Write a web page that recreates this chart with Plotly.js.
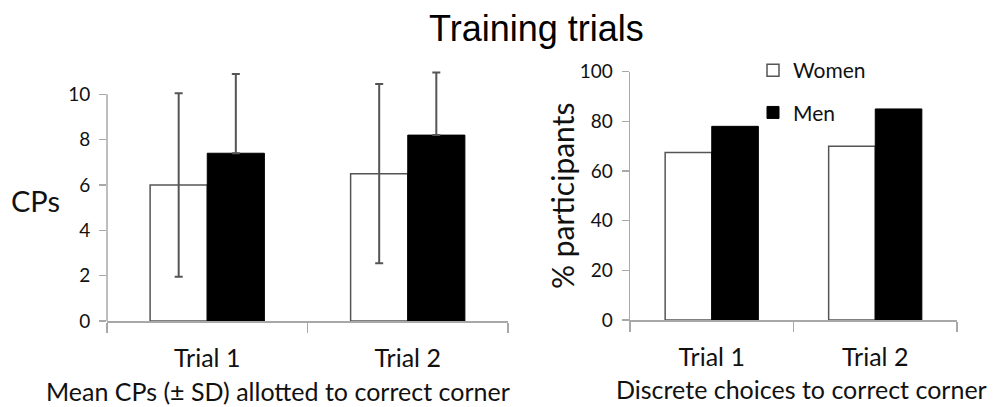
<!DOCTYPE html>
<html>
<head>
<meta charset="utf-8">
<script src="https://cdn.plot.ly/plotly-3.0.1.min.js"></script>
<style>
  html, body { margin: 0; padding: 0; background: #fff; }
  #chart { width: 1006px; height: 407px; }
</style>
</head>
<body>
<div id="chart"></div>
<script>
// ---- data ----
var categories = ["Trial 1", "Trial 2"];
// Left panel: mean CPs (± SD) allotted to correct corner
var cpsWomen = [6.0, 6.5];
var cpsWomenSD = [4.05, 3.95];
var cpsMen = [7.4, 8.2];
var cpsMenSD = [3.5, 2.76];
// Right panel: % participants making discrete choice to correct corner
var pctWomen = [67.5, 70];
var pctMen = [78, 85];
var seriesNames = ["Women", "Men"];
var cpsTicks = [0, 2, 4, 6, 8, 10];
var pctTicks = [0, 20, 40, 60, 80, 100];

var W = 1006, H = 407;
function px(x) { return x / W; }
function py(y) { return 1 - y / H; }

var FONT = "Lato, 'Noto Sans', sans-serif";
var TXT = "#111";
var AXC = "#a8a8a8";

var womenStyle = { color: "#ffffff", line: { color: "#555555", width: 1.5 } };
var menStyle = { color: "#000000", line: { color: "#000000", width: 1 } };
var errStyle = { type: "data", visible: true, color: "#555555", thickness: 2, width: 4 };

// lower half of the men's SD bars is hidden inside the black bars in the original
var menLower = cpsMenSD.map(function () { return 0; });

var traces = [
  { type: "bar", x: categories, y: cpsWomen, name: seriesNames[0], marker: womenStyle,
    error_y: Object.assign({ array: cpsWomenSD }, errStyle), xaxis: "x", yaxis: "y",
    showlegend: false, legendgroup: "w", hoverinfo: "y" },
  { type: "bar", x: categories, y: cpsMen, name: seriesNames[1], marker: menStyle,
    error_y: Object.assign({ symmetric: false, array: cpsMenSD, arrayminus: menLower }, errStyle),
    xaxis: "x", yaxis: "y", showlegend: false, legendgroup: "m", hoverinfo: "y" },
  { type: "bar", x: categories, y: pctWomen, name: seriesNames[0], marker: womenStyle,
    xaxis: "x2", yaxis: "y2", showlegend: true, legendgroup: "w", hoverinfo: "y" },
  { type: "bar", x: categories, y: pctMen, name: seriesNames[1], marker: menStyle,
    xaxis: "x2", yaxis: "y2", showlegend: true, legendgroup: "m", hoverinfo: "y" }
];

function xAxis(domain, anchor) {
  return {
    domain: domain, anchor: anchor, type: "category", range: [-0.5, 1.5],
    showline: true, linecolor: AXC, linewidth: 1.5,
    ticks: "outside", tickson: "boundaries", ticklen: 10, tickcolor: AXC, tickwidth: 1.5,
    ticklabelstandoff: 14,
    tickfont: { family: FONT, size: 25, color: TXT },
    showgrid: false, zeroline: false, fixedrange: true
  };
}
function yAxis(domain, anchor, range, tickvals, showline) {
  return {
    domain: domain, anchor: anchor, range: range, tickvals: tickvals,
    showline: showline, linecolor: AXC, linewidth: 1.5,
    ticks: "outside", ticklen: 7, tickcolor: AXC, tickwidth: 1.5,
    ticklabelstandoff: 5,
    tickfont: { family: FONT, size: 19, color: TXT },
    showgrid: false, zeroline: false, fixedrange: true
  };
}

var layout = {
  width: W, height: H,
  margin: { l: 0, r: 0, t: 0, b: 0 },
  paper_bgcolor: "#fff", plot_bgcolor: "rgba(0,0,0,0)",
  barmode: "group", bargap: 0.43, bargroupgap: 0,
  xaxis: xAxis([px(107), px(508)], "y"),
  // range extends above 10 so the SD bars are not clipped; axis line drawn to 10 only
  yaxis: yAxis([py(321), py(67.1)], "x", [0, 11.2], cpsTicks, false),
  xaxis2: xAxis([px(630), px(957)], "y2"),
  yaxis2: yAxis([py(320), py(71.7)], "x2", [0, 100], pctTicks, true),
  shapes: [
    { type: "line", xref: "x domain", yref: "y", x0: 0, x1: 0, y0: 0, y1: cpsTicks[cpsTicks.length - 1],
      line: { color: AXC, width: 1.5 }, layer: "above" }
  ],
  showlegend: true,
  legend: {
    x: px(753), xanchor: "left", y: py(50), yanchor: "top",
    traceorder: "grouped", tracegroupgap: 12,
    font: { family: FONT, size: 21, color: TXT },
    bgcolor: "rgba(0,0,0,0)", itemclick: false, itemdoubleclick: false
  },
  annotations: [
    { text: "Training trials", xref: "paper", yref: "paper", x: px(536), y: py(29),
      xanchor: "center", yanchor: "middle", showarrow: false,
      font: { family: "'Liberation Sans', Arial, sans-serif", size: 36, color: "#000" } },
    { text: "CPs", xref: "paper", yref: "paper", x: px(35), y: py(201),
      xanchor: "center", yanchor: "middle", showarrow: false,
      font: { family: FONT, size: 29, color: TXT } },
    { text: "% participants", xref: "paper", yref: "paper", x: px(562), y: py(196),
      xanchor: "center", yanchor: "middle", textangle: -90, showarrow: false,
      font: { family: FONT, size: 30, color: TXT } },
    { text: "Mean CPs (± SD) allotted to correct corner", xref: "paper", yref: "paper",
      x: px(278), y: py(391), xanchor: "center", yanchor: "middle", showarrow: false,
      font: { family: FONT, size: 25, color: TXT } },
    { text: "Discrete choices to correct corner", xref: "paper", yref: "paper",
      x: px(801), y: py(389), xanchor: "center", yanchor: "middle", showarrow: false,
      font: { family: FONT, size: 25, color: TXT } }
  ]
};

Plotly.newPlot("chart", traces, layout, { displayModeBar: false, staticPlot: true });
</script>
</body>
</html>
